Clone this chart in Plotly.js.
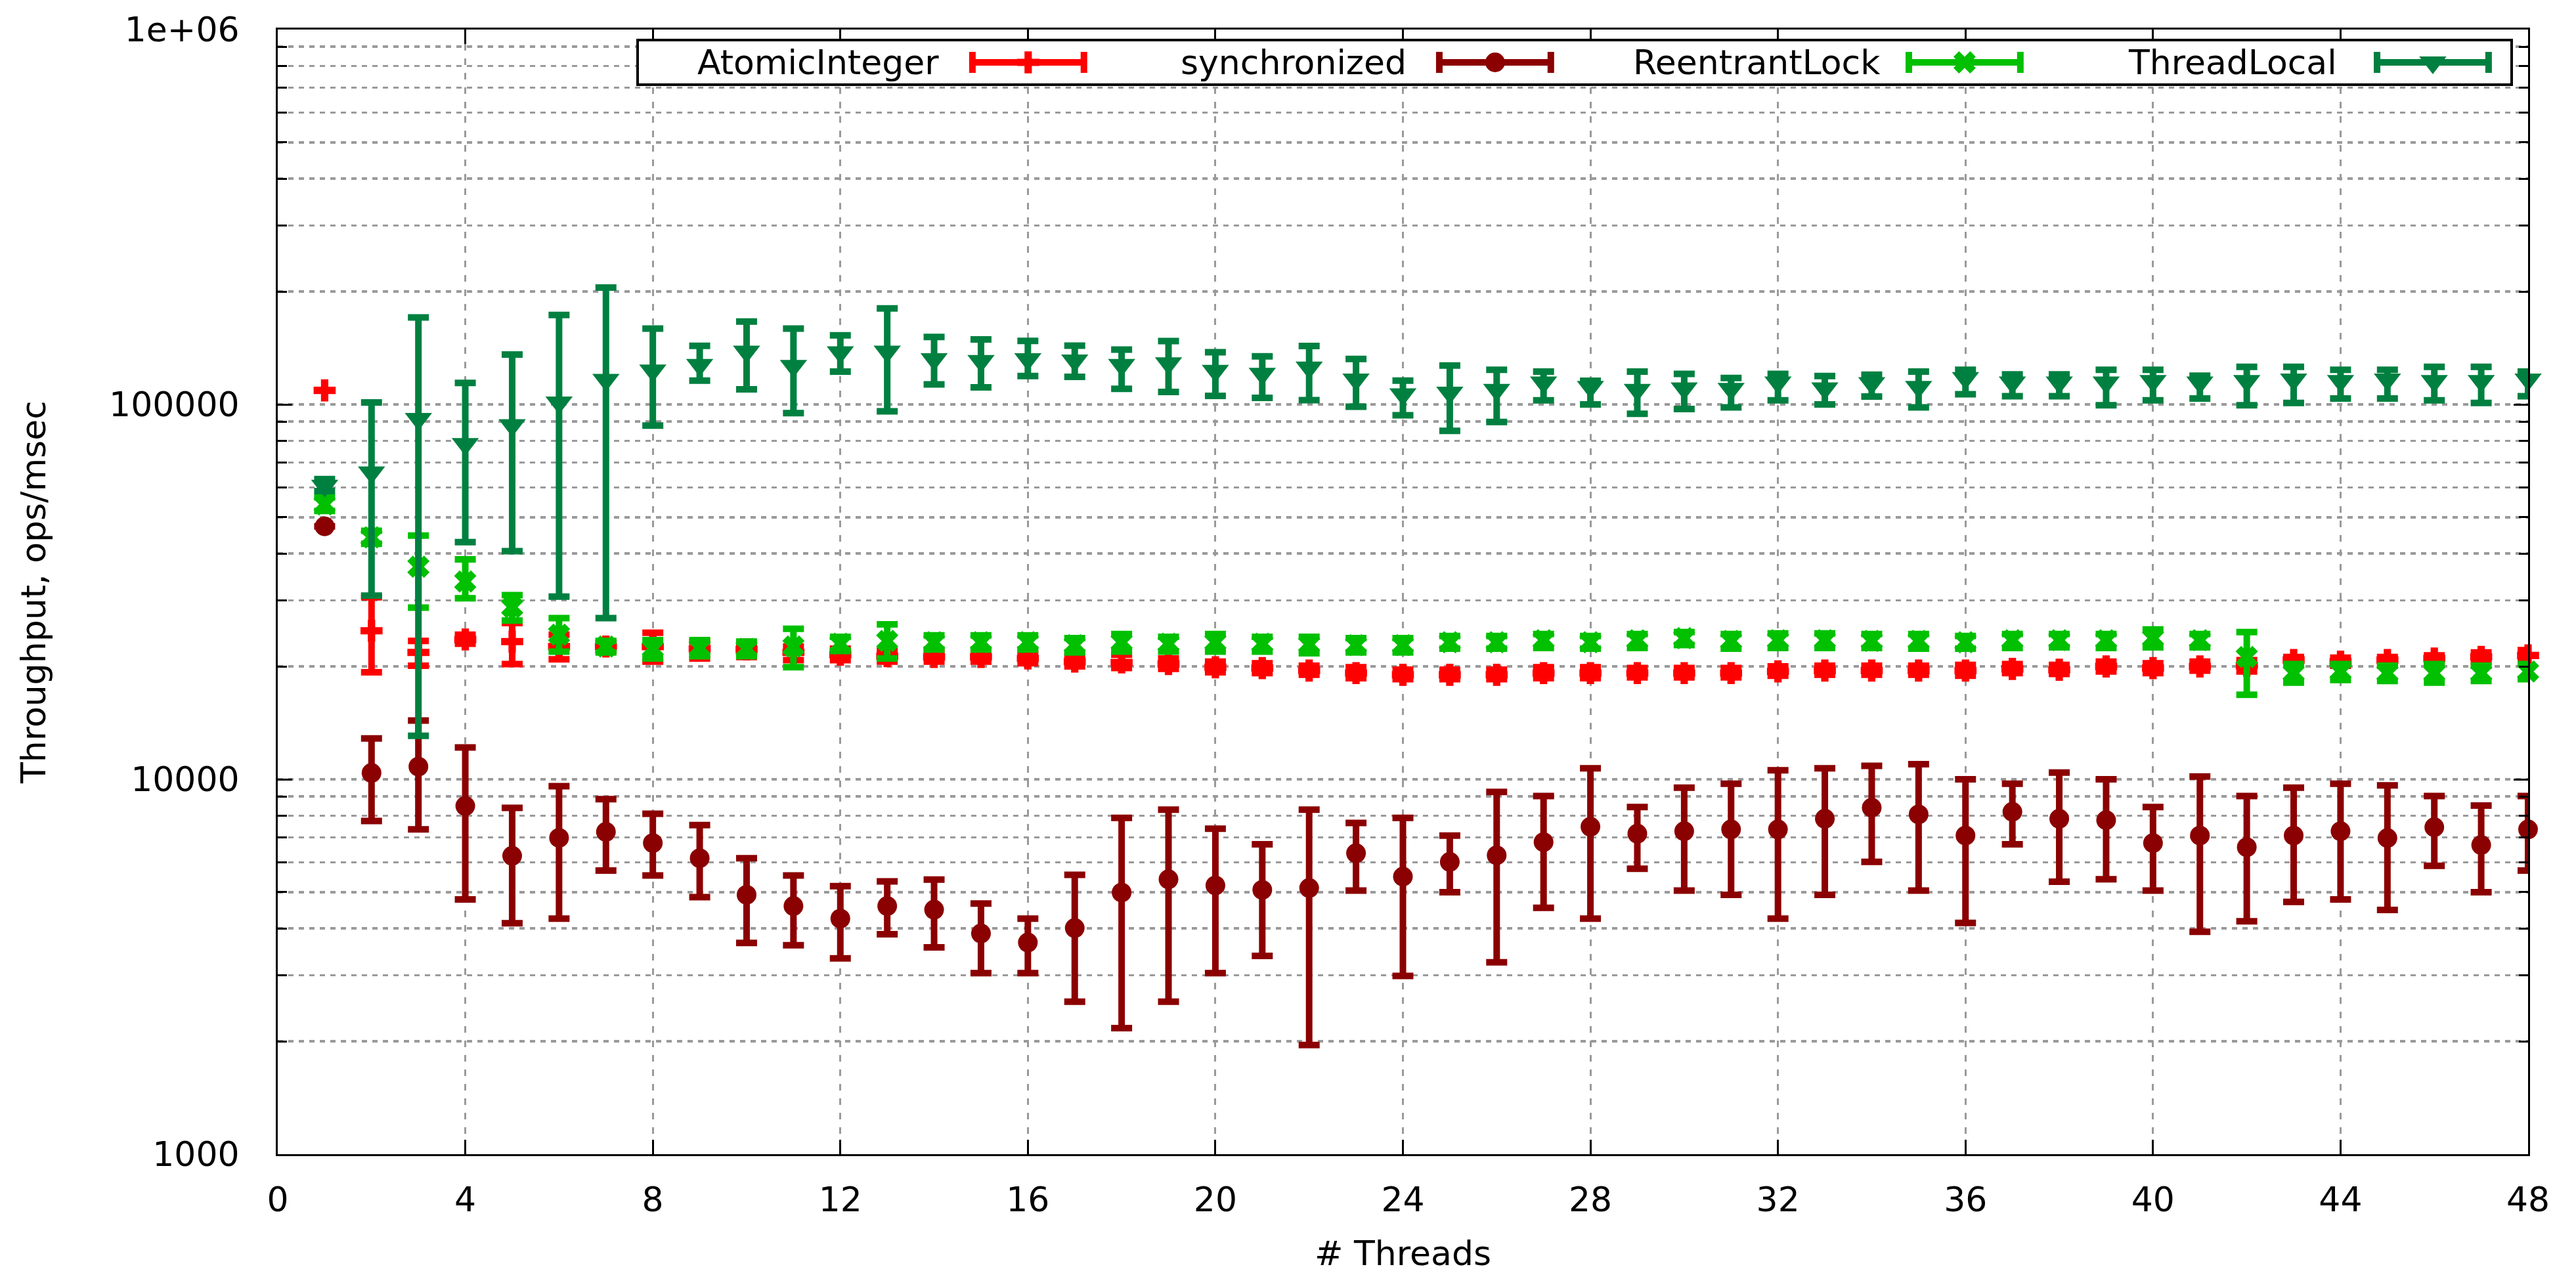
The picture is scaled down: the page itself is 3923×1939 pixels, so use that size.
<!DOCTYPE html>
<html>
<head>
<meta charset="utf-8">
<script src="https://cdn.plot.ly/plotly-3.0.1.min.js"></script>
<style>html,body{margin:0;padding:0;background:#fff;} #chart{width:3923px;height:1939px;}</style>
</head>
<body>
<div id="chart"></div>
<script>
// ---------- data ----------
const threads = [1,2,3,4,5,6,7,8,9,10,11,12,13,14,15,16,17,18,19,20,21,22,23,24,25,26,27,28,29,30,31,32,33,34,35,36,37,38,39,40,41,42,43,44,45,46,47,48];

const seriesNames = ["AtomicInteger", "synchronized", "ReentrantLock", "ThreadLocal"];

const atomicMean = [109000,24900,21800,23600,23300,22600,22600,22600,22300,22200,21800,21500,21300,21200,21200,21000,20600,20500,20300,19900,19800,19500,19200,19000,19000,19000,19200,19200,19200,19200,19200,19400,19500,19500,19500,19500,19700,19600,20000,19800,20000,20100,20800,20600,20800,21000,21200,21400];
const atomicLow  = [109000,19300,20100,23000,20300,20900,21900,20600,21000,21200,20800,20800,20600,20600,20600,20400,20000,19800,19700,19300,19200,19000,18600,18500,18500,18500,18600,18600,18700,18700,18700,18900,19000,19000,19000,18900,19200,19100,19400,19200,19500,19400,20300,20100,20300,20500,20600,20700];
const atomicHigh = [109000,30600,23400,24300,26100,24300,23300,24600,23300,23000,22600,22300,22000,21900,21900,21700,21300,21500,21000,20600,20400,20100,19900,19600,19600,19600,19900,19900,19800,19800,19800,20000,20100,20100,20100,20200,20300,20200,20600,20400,20600,20800,21200,21100,21200,21400,21800,22100];

const syncMean = [47300,10400,10810,8490,6250,6980,7240,6760,6160,4920,4590,4250,4590,4490,3880,3670,4010,4990,5410,5210,5070,5130,6350,5500,6020,6270,6800,7470,7160,7270,7350,7350,7850,8400,8060,7080,8190,7850,7780,6760,7080,6590,7080,7270,6970,7450,6680,7350];
const syncLow  = [47300,7740,7350,4780,4130,4250,5710,5540,4850,3660,3610,3330,3860,3560,3040,3040,2550,2170,2550,3040,3380,1955,5050,2990,5000,3250,4540,4250,5770,5050,4920,4250,4920,6020,5050,4140,6710,5330,5410,5050,3920,4180,4710,4780,4480,5880,5000,5710];
const syncHigh = [47300,12850,14350,12160,8390,9590,8850,8090,7550,6160,5540,5190,5340,5400,4660,4250,5560,7890,8300,7380,6710,8300,7650,7890,7080,9250,9020,10700,8430,9500,9730,10570,10700,10860,10970,10000,9730,10420,10000,8430,10170,9020,9500,9730,9630,9020,8510,9020];

const lockMean = [54100,44200,36900,33700,28800,24300,22600,22300,22400,22300,22600,23000,23400,23200,23200,23200,22800,23200,23000,23200,23000,22900,22800,22800,23200,23200,23500,23200,23500,23800,23400,23500,23500,23400,23400,23200,23500,23500,23500,23800,23500,21200,19200,19400,19200,19200,19200,19400];
const lockLow  = [52000,42500,28700,30400,26500,21900,21800,21000,21300,21300,19900,22000,21000,22200,22200,22200,21800,21900,21900,21900,21900,21700,21800,21800,22300,22300,22400,22300,22400,22800,22300,22400,22400,22400,22300,22300,22400,22500,22400,22500,22500,16800,18100,18400,18300,18100,18300,18500];
const lockHigh = [56500,46000,44700,38600,31000,26900,23400,23500,23500,23300,25200,24000,25900,24200,24200,24200,23800,24400,24000,24400,24000,24000,23800,23800,24100,24100,24400,24100,24400,24700,24400,24500,24500,24400,24400,24100,24400,24400,24400,25100,24400,24700,20300,20300,20100,20300,20100,20300];

const localMean = [60700,65900,91500,78400,88100,101200,116300,123200,127500,138400,126700,137800,138400,132100,130600,132100,131000,127500,128800,123000,120800,125400,116600,106500,107500,109400,114500,111400,109400,110400,110000,114500,110400,114000,111400,117600,114500,114500,114500,115500,114500,115500,116600,115500,116600,115500,115500,116600];
const localLow  = [58700,30900,13060,42900,40600,30700,26900,87800,115700,109700,94800,122300,95900,113100,111000,119000,118500,110000,108000,105400,104100,102700,98600,93600,85000,89800,102600,100000,94400,97200,98200,102600,100000,105000,98200,106500,105200,105200,99500,102600,103700,99500,100900,103700,103700,102600,100900,105200];
const localHigh = [63200,101200,170600,114100,135900,173300,205000,159300,143300,166300,159300,152800,180300,151400,149000,147700,143500,140000,147600,137800,134400,143200,132200,115700,127000,123700,122400,115600,122400,120600,117600,120600,119100,120000,122400,123700,120200,120200,123700,123700,119300,126000,126000,123700,123700,126000,126000,122400];

const xTickVals = [0,4,8,12,16,20,24,28,32,36,40,44,48];
const yTickVals = [1000,10000,100000,1000000];
const yTickText = ["1000","10000","100000","1e+06"];

// ---------- styling ----------
const colors = ["#ff0000", "#8b0000", "#00c000", "#008040"];
const symbols = ["cross", "circle", "x", "triangle-down"];
const sizes = [28, 30, 30, 36];
const FONT = "DejaVu Sans";
const FS = 52;
const GRID = "#9a9a9a";

const means = [atomicMean, syncMean, lockMean, localMean];
const lows = [atomicLow, syncLow, lockLow, localLow];
const highs = [atomicHigh, syncHigh, lockHigh, localHigh];

const traces = [];
for (let i = 0; i < 4; i++) {
  const m = means[i];
  traces.push({
    type: "scatter",
    mode: "markers",
    name: seriesNames[i],
    x: threads,
    y: m,
    xaxis: "x", yaxis: "y",
    showlegend: false,
    cliponaxis: false,
    marker: { color: colors[i], symbol: symbols[i], size: sizes[i], line: { width: 0 } },
    error_y: {
      type: "data", symmetric: false,
      array: highs[i].map((h, k) => h - m[k]),
      arrayminus: lows[i].map((l, k) => m[k] - l),
      color: colors[i], thickness: 10, width: 16, visible: true
    }
  });
}

// legend (gnuplot-style key drawn in an inset subplot)
const keyCenters = [0.208, 0.4575, 0.7084, 0.9586];
const keyTextRight = [0.161, 0.411, 0.664, 0.908];
const annotations = [];
for (let i = 0; i < 4; i++) {
  traces.push({
    type: "scatter", mode: "markers", x: [keyCenters[i]], y: [0.5],
    xaxis: "x3", yaxis: "y3", showlegend: false, hoverinfo: "skip",
    marker: { color: colors[i], symbol: symbols[i], size: sizes[i], line: { width: 0 } },
    error_x: { type: "data", array: [0.0298], symmetric: true, color: colors[i], thickness: 10, width: 16 }
  });
  annotations.push({
    xref: "x3", yref: "y3", x: keyTextRight[i], y: 0.5, xanchor: "right", yanchor: "middle",
    text: seriesNames[i], showarrow: false, font: { family: FONT, size: FS, color: "#000" }
  });
}

const minorVals = [];
for (let e = 3; e < 6; e++) for (let k = 2; k <= 9; k++) minorVals.push(k * Math.pow(10, e));

const layout = {
  width: 3923, height: 1939,
  margin: { l: 423, r: 73, t: 45, b: 181, pad: 0 },
  paper_bgcolor: "#ffffff", plot_bgcolor: "#ffffff",
  font: { family: FONT, size: FS, color: "#000" },
  showlegend: false,
  xaxis: {
    range: [0, 48], tickmode: "array", tickvals: xTickVals,
    ticks: "inside", ticklen: 22, tickwidth: 3, tickcolor: "#000",
    showline: true, linewidth: 3, linecolor: "#000", mirror: "ticks",
    showgrid: true, gridcolor: GRID, gridwidth: 3, griddash: "10px,12px",
    zeroline: false, ticklabelstandoff: 22,
    tickfont: { family: FONT, size: FS, color: "#000" },
    title: { text: "# Threads", font: { family: FONT, size: FS, color: "#000" }, standoff: 55 }
  },
  yaxis: {
    type: "log", range: [3, 6], tickmode: "array", tickvals: yTickVals, ticktext: yTickText,
    ticks: "inside", ticklen: 22, tickwidth: 3, tickcolor: "#000",
    showline: true, linewidth: 3, linecolor: "#000", mirror: "ticks",
    showgrid: true, gridcolor: GRID, gridwidth: 3.5, griddash: "8px,8px",
    zeroline: false, ticklabelstandoff: 45,
    tickfont: { family: FONT, size: FS, color: "#000" },
    minor: { tickmode: "array", tickvals: minorVals, ticks: "inside", ticklen: 14, tickwidth: 3, tickcolor: "#000",
             showgrid: true, gridcolor: GRID, gridwidth: 3.5, griddash: "8px,8px" },
    title: { text: "Throughput, ops/msec", font: { family: FONT, size: FS, color: "#000" }, standoff: 80 }
  },
  xaxis3: {
    domain: [0.1605, 0.9921], range: [0, 1], anchor: "y3",
    showline: true, mirror: true, linewidth: 4, linecolor: "#000",
    showgrid: false, zeroline: false, showticklabels: false, ticks: "", fixedrange: true
  },
  yaxis3: {
    domain: [0.9521, 0.9895], range: [0, 1], anchor: "x3",
    showline: true, mirror: true, linewidth: 4, linecolor: "#000",
    showgrid: false, zeroline: false, showticklabels: false, ticks: "", fixedrange: true
  },
  annotations: annotations
};

Plotly.newPlot("chart", traces, layout, { displayModeBar: false, staticPlot: true });
</script>
</body>
</html>
